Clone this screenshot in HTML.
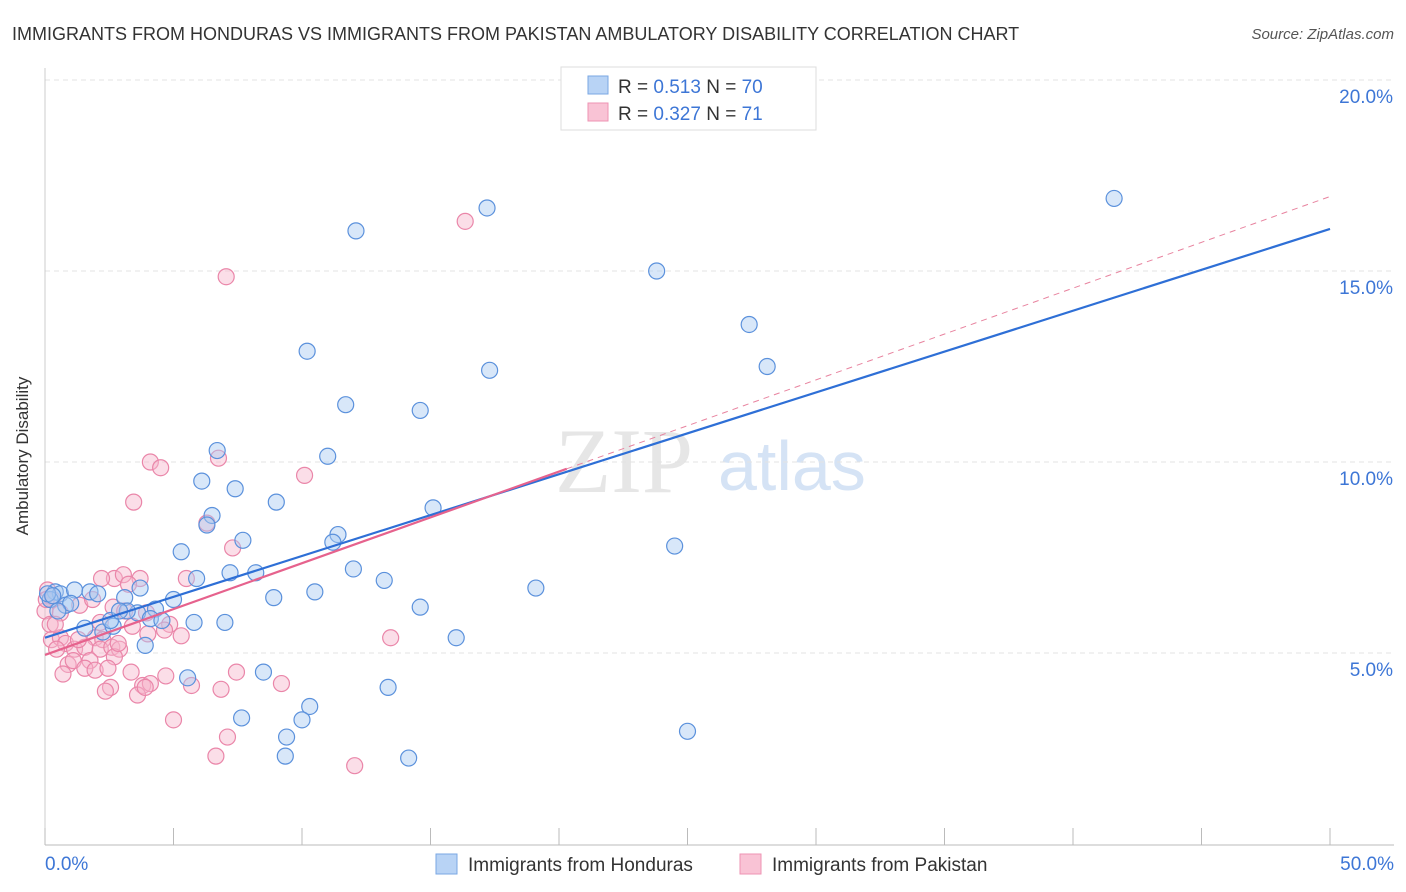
<!DOCTYPE html>
<html><head><meta charset="utf-8"><style>
body{margin:0;background:#fff;font-family:"Liberation Sans",sans-serif;}
svg{display:block}
</style></head><body>
<svg id="chart" width="1406" height="892">
<text x="12" y="40" font-size="18" fill="#333">IMMIGRANTS FROM HONDURAS VS IMMIGRANTS FROM PAKISTAN AMBULATORY DISABILITY CORRELATION CHART</text>
<text x="1394" y="39" font-size="15" fill="#555" text-anchor="end" font-style="italic">Source: ZipAtlas.com</text>
<text x="28" y="456" font-size="17" fill="#333" text-anchor="middle" transform="rotate(-90 28 456)">Ambulatory Disability</text>
<g><text x="555" y="492" font-size="92" fill="#e6e6e6" font-family="Liberation Serif,serif">ZIP</text><text x="718" y="490" font-size="70" fill="#d5e3f5">atlas</text></g>
<g id="grid"></g><g id="marks"></g>
<g>
<rect x="561" y="67" width="255" height="63" fill="#fff" stroke="#ddd"/>
<rect x="588" y="76" width="20" height="18" fill="#b8d3f5" stroke="#7aa7e3"/>
<rect x="588" y="103" width="20" height="18" fill="#f9c3d5" stroke="#ee93b3"/>
<text x="618" y="93" font-size="19" fill="#333">R = <tspan fill="#3d76d6">0.513</tspan>   N = <tspan fill="#3d76d6">70</tspan></text>
<text x="618" y="120" font-size="19" fill="#333">R = <tspan fill="#3d76d6">0.327</tspan>   N =  <tspan fill="#3d76d6">71</tspan></text>
</g>
<g>
<rect x="436" y="854" width="21" height="20" fill="#b8d3f5" stroke="#7aa7e3"/>
<text x="468" y="871" font-size="19" fill="#333">Immigrants from Honduras</text>
<rect x="740" y="854" width="21" height="20" fill="#f9c3d5" stroke="#ee93b3"/>
<text x="772" y="871" font-size="19" fill="#333">Immigrants from Pakistan</text>
</g>
</svg>
<script>
const blueX=[17.2,12.1,41.6,23.8,27.4,10.2,28.1,17.3,11.7,14.6,6.7,11.0,6.1,7.4,9.0,15.1,6.5,6.3,7.7,11.4,11.2,5.3,24.5,12.0,7.2,5.9,8.2,13.2,19.1,10.5,8.9,5.0,14.6,3.7,3.1,3.6,4.3,3.2,4.1,4.55,5.8,7.0,2.25,2.65,1.55,16.0,3.9,0.4,0.6,1.15,1.75,2.05,0.2,0.8,1.0,0.5,5.55,8.5,13.35,10.3,7.65,10.0,9.4,9.35,14.15,25.0,2.55,2.9,0.1,0.3];
const blueY=[16.65,16.05,16.9,15.0,13.6,12.9,12.5,12.4,11.5,11.35,10.3,10.15,9.5,9.3,8.95,8.8,8.6,8.35,7.95,8.1,7.9,7.65,7.8,7.2,7.1,6.95,7.1,6.9,6.7,6.6,6.45,6.4,6.2,6.7,6.45,6.05,6.15,6.1,5.9,5.85,5.8,5.8,5.55,5.7,5.65,5.4,5.2,6.6,6.55,6.65,6.6,6.55,6.4,6.25,6.3,6.1,4.35,4.5,4.1,3.6,3.3,3.25,2.8,2.3,2.25,2.95,5.85,6.1,6.55,6.5];
const pinkX=[16.35,7.05,4.1,4.5,6.75,10.1,3.45,6.3,7.3,5.5,2.7,3.05,2.2,3.7,3.25,0.1,0.3,0.0,0.6,1.35,1.85,2.65,3.1,3.95,4.85,4.65,5.3,3.4,4.0,1.95,2.25,0.2,0.25,0.6,0.8,1.15,1.55,2.15,2.6,2.9,0.45,1.75,0.9,1.1,1.55,0.7,1.95,2.7,3.35,4.7,5.7,6.85,7.45,9.2,2.55,2.35,3.8,4.1,3.6,5.0,7.1,6.65,12.05,13.45,0.4,0.05,2.45,1.3,2.15,2.85,3.9];
const pinkY=[16.3,14.85,10.0,9.85,10.1,9.65,8.95,8.4,7.75,6.95,6.95,7.05,6.95,6.95,6.8,6.65,6.4,6.1,6.05,6.25,6.4,6.2,6.1,6.05,5.75,5.6,5.45,5.7,5.5,5.4,5.35,5.75,5.35,5.4,5.25,5.1,5.15,5.1,5.15,5.1,5.1,4.8,4.7,4.8,4.6,4.45,4.55,4.9,4.5,4.4,4.15,4.05,4.5,4.2,4.1,4.0,4.15,4.2,3.9,3.25,2.8,2.3,2.05,5.4,5.75,6.4,4.6,5.35,5.8,5.25,4.1];
const yTicks=[5,10,15,20];
const xTickLabels=["0.0%","50.0%"];
const blueTrend=[5.4,16.1];
const pinkTrend=[4.95,16.95];
const pinkSolidEnd=20.3;
const NS="http://www.w3.org/2000/svg";
const X=v=>45+v/50*1285, Y=v=>844-v*38.2;
function mk(tag,attrs,parent){const e=document.createElementNS(NS,tag);for(const k in attrs)e.setAttribute(k,attrs[k]);parent.appendChild(e);return e;}
const g=document.getElementById('grid'), m=document.getElementById('marks');
yTicks.forEach(t=>{
 const l=mk('line',{x1:45,x2:1394,y1:Y(t),y2:Y(t),stroke:'#e3e3e3','stroke-dasharray':'5,4'},g);
 
 
 const tx=mk('text',{x:1393,y:Y(t)+23,'font-size':19,fill:'#3d76d6','text-anchor':'end'},g);
 tx.textContent=t.toFixed(1)+'%';
 
 
});
const ax=mk('line',{x1:45,x2:1394,y1:845,y2:845,stroke:'#bbb'},g);


const ay=mk('line',{x1:45,x2:45,y1:68,y2:845,stroke:'#ccc'},g);


for(let i=0;i<=10;i++){const t=mk('line',{x1:X(i*5),x2:X(i*5),y1:828,y2:845,stroke:'#bbb'},g);
 
 }
[[0,'start',45],[50,'end',1394]].forEach((a,i)=>{const t=mk('text',{x:a[2],y:870,'font-size':19,fill:'#3d76d6','text-anchor':a[1]},g);t.textContent=xTickLabels[i];
 
 });
function pts(xs,ys,fill,stroke,name){xs.forEach((x,i)=>{const c=mk('circle',{cx:X(x),cy:Y(ys[i]),r:8,fill:fill,'fill-opacity':0.45,stroke:stroke,'stroke-width':1.2},m);
 
 });}
pts(pinkX,pinkY,'#f7b5cb','#ea86a9','point-pakistan');
pts(blueX,blueY,'#a9c9f2','#5b91dc','point-honduras');
const pl=v=>pinkTrend[0]+(pinkTrend[1]-pinkTrend[0])*v/50;
const pd=mk('line',{x1:X(pinkSolidEnd),y1:Y(pl(pinkSolidEnd)),x2:X(50),y2:Y(pinkTrend[1]),stroke:'#e8839f','stroke-width':1,'stroke-dasharray':'6,5'},m);


const bl=mk('line',{x1:X(0),y1:Y(blueTrend[0]),x2:X(50),y2:Y(blueTrend[1]),stroke:'#2e6fd6','stroke-width':2.2},m);


const ps=mk('line',{x1:X(0),y1:Y(pinkTrend[0]),x2:X(pinkSolidEnd),y2:Y(pl(pinkSolidEnd)),stroke:'#e6628d','stroke-width':2.2},m);


</script>
</body></html>
